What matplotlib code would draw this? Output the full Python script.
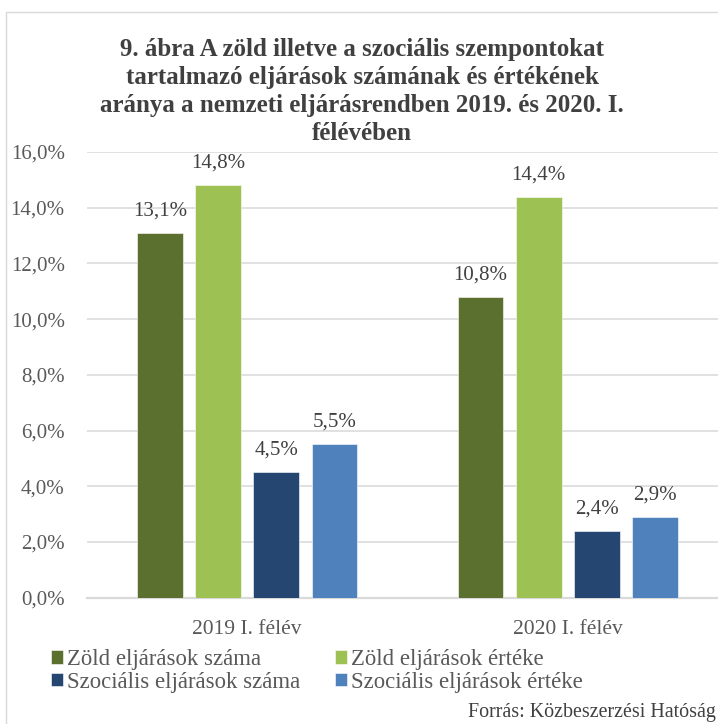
import matplotlib.pyplot as plt
from matplotlib.patches import Rectangle

plt.rcParams["font.family"] = ["Liberation Serif", "DejaVu Serif"]

categories = ["2019 I. félév", "2020 I. félév"]
series_names = [
    "Zöld eljárások száma",
    "Zöld eljárások értéke",
    "Szociális eljárások száma",
    "Szociális eljárások értéke",
]
zold_szama = [13.1, 10.8]
zold_erteke = [14.8, 14.4]
szoc_szama = [4.5, 2.4]
szoc_erteke = [5.5, 2.9]
y_ticks = [0, 2, 4, 6, 8, 10, 12, 14, 16]

title_lines = [
    "9. ábra A zöld illetve a szociális szempontokat",
    "tartalmazó eljárások számának és értékének",
    "aránya a nemzeti eljárásrendben 2019. és 2020. I.",
    "félévében",
]
source = "Forrás: Közbeszerzési Hatóság"

colors = ["#5B6F2E", "#9DC153", "#254670", "#4F81BD"]
GRID = "#D9D9D9"
TXT = "#595959"
LBL = "#404040"

W, H = 718, 724
fig = plt.figure(figsize=(W / 100, H / 100), dpi=100)

# plot area runs past the right edge, like the cropped original
ax = fig.add_axes([87 / W, 1 - 597.7 / H, 641 / W, (597.7 - 152) / H])

series = [zold_szama, zold_erteke, szoc_szama, szoc_erteke]
step = 0.1815
width = 0.1434
x = list(range(len(categories)))
bars = []
for i, (vals, name, c) in enumerate(zip(series, series_names, colors)):
    off = (i - 1.5) * step
    b = ax.bar([xi + off for xi in x], vals, width=width, color=c,
               edgecolor="white", linewidth=0.4, label=name, zorder=3)
    bars.append(b)
    for rect, v in zip(b, vals):
        ax.annotate(f"{v:.1f}%".replace(".", ","),
                    (rect.get_x() + rect.get_width() / 2, v),
                    xytext=(0, 9), textcoords="offset points",
                    ha="center", va="bottom", fontsize=15, color=LBL)

ax.set_xlim(-0.5, 1.5)
ax.set_ylim(0, 16)
ax.set_yticks(y_ticks)
ax.set_yticklabels([f"{t:.1f}%".replace(".", ",") for t in y_ticks])
ax.set_xticks(x)
ax.set_xticklabels(categories)
ax.tick_params(axis="both", length=0, labelcolor=TXT)
ax.tick_params(axis="y", pad=16, labelsize=15)
ax.tick_params(axis="x", pad=16, labelsize=15.5)
ax.grid(axis="y", color=GRID, linewidth=1.1, zorder=0)
for s in ["top", "right", "left"]:
    ax.spines[s].set_visible(False)
ax.spines["bottom"].set_color(GRID)
ax.spines["bottom"].set_linewidth(1.6)

for k, line in enumerate(title_lines):
    fig.text(362 / W, 1 - (56 + 28 * k) / H, line, ha="center", va="baseline",
             fontsize=18, fontweight="bold", color=LBL)

# legend filled row by row: the two "száma" entries go in the left column
order = [0, 2, 1, 3]
fig.legend(handles=[bars[i] for i in order], loc="upper left",
           bbox_to_anchor=(51 / W, 1 - 649 / H),
           ncol=2, frameon=False, fontsize=16.4, labelcolor=TXT,
           handlelength=0.53, handleheight=0.53, handletextpad=0.18,
           columnspacing=1.5, borderpad=0, borderaxespad=0, labelspacing=0.08)

fig.text(716 / W, 1 - 712 / H, source, ha="right", va="center",
         fontsize=14.4, color=LBL)

fig.patches.append(Rectangle((6 / W, -0.1), 2, (H - 12) / H + 0.1,
                             transform=fig.transFigure, fill=False,
                             edgecolor=GRID, linewidth=1))

fig.savefig("out.png", dpi=100)
